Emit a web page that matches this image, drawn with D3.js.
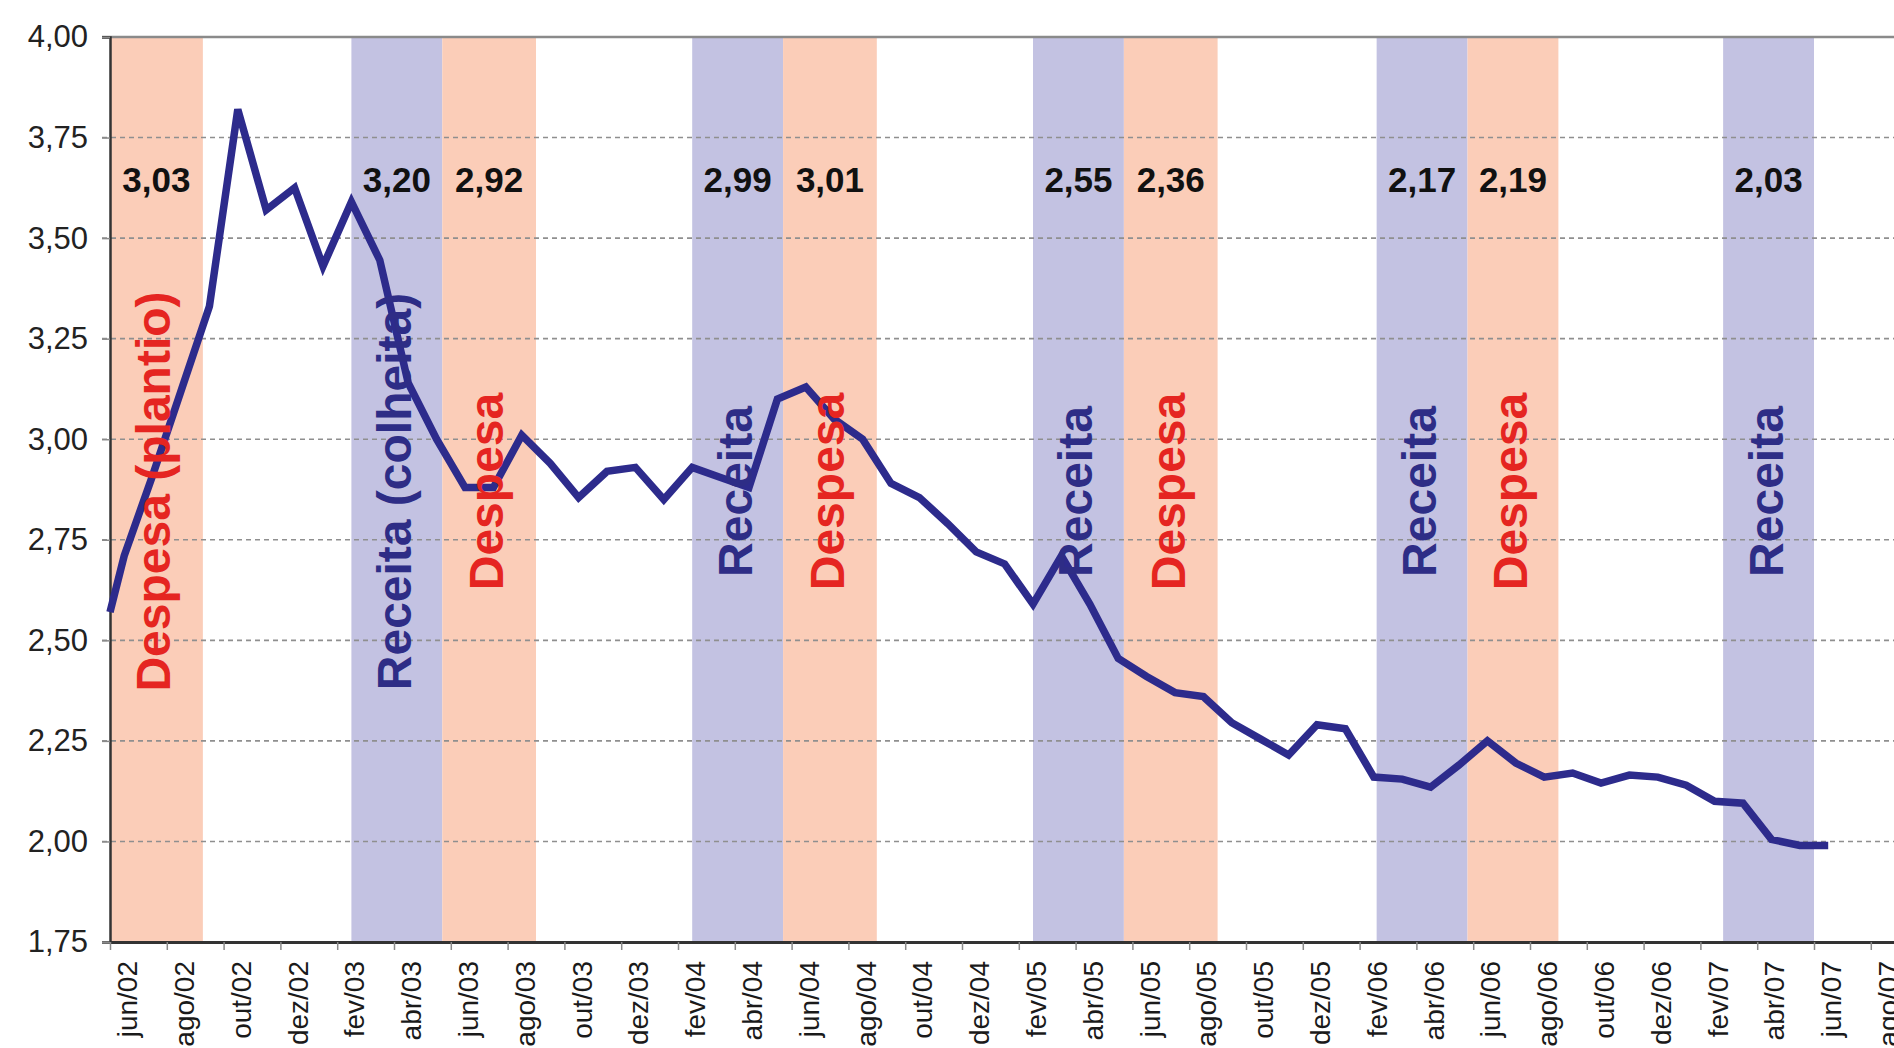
<!DOCTYPE html>
<html>
<head>
<meta charset="utf-8">
<title>Receita x Despesa</title>
<style>
  body { margin: 0; background: #fff; }
  svg { display: block; font-family: "Liberation Sans", Arial, sans-serif; }
</style>
</head>
<body>
<div id="chart"></div>
<script src="https://cdn.jsdelivr.net/npm/d3@7"></script>
<script>
// categorias mensais (eixo x)
var months = ["jun/02","jul/02","ago/02","set/02","out/02","nov/02","dez/02",
  "jan/03","fev/03","mar/03","abr/03","mai/03","jun/03","jul/03","ago/03","set/03","out/03","nov/03","dez/03",
  "jan/04","fev/04","mar/04","abr/04","mai/04","jun/04","jul/04","ago/04","set/04","out/04","nov/04","dez/04",
  "jan/05","fev/05","mar/05","abr/05","mai/05","jun/05","jul/05","ago/05","set/05","out/05","nov/05","dez/05",
  "jan/06","fev/06","mar/06","abr/06","mai/06","jun/06","jul/06","ago/06","set/06","out/06","nov/06","dez/06",
  "jan/07","fev/07","mar/07","abr/07","mai/07","jun/07","jul/07","ago/07"];

// serie mensal (jun/02 .. jun/07)
var startValue = 2.57;
var values = [2.71, 2.91, 3.12, 3.33, 3.82, 3.57, 3.625, 3.43, 3.59, 3.445,
  3.14, 3.00, 2.88, 2.88, 3.01, 2.94, 2.855, 2.92, 2.93, 2.85,
  2.93, 2.905, 2.88, 3.10, 3.13, 3.05, 3.00, 2.89, 2.855, 2.79,
  2.72, 2.69, 2.59, 2.71, 2.59, 2.455, 2.41, 2.37, 2.36, 2.295,
  2.255, 2.215, 2.29, 2.28, 2.16, 2.155, 2.135, 2.19, 2.25, 2.195,
  2.16, 2.17, 2.145, 2.165, 2.16, 2.14, 2.10, 2.095, 2.005, 1.99, 1.99];

// faixas de receita / despesa (em meses a partir de jun/02)
var bandType  = ["despesa","receita","despesa","receita","despesa","receita","despesa","receita","despesa","receita"];
var bandFrom  = [0, 8.5, 11.7, 20.5, 23.7, 32.5, 35.7, 44.6, 47.8, 56.8];
var bandTo    = [3.27, 11.7, 15.0, 23.7, 27.0, 35.7, 39.0, 47.8, 51.0, 60.0];
var bandValue = ["3,03","3,20","2,92","2,99","3,01","2,55","2,36","2,17","2,19","2,03"];
var bandText  = ["Despesa (plantio)","Receita (colheita)","Despesa","Receita","Despesa","Receita","Despesa","Receita","Despesa","Receita"];

var yTicks = [1.75, 2.00, 2.25, 2.50, 2.75, 3.00, 3.25, 3.50, 3.75, 4.00];

var W = 1894, H = 1048;
var plotLeft = 110, plotTop = 37, plotBottom = 942, catW = 28.4;

var fillColor = { despesa: "#fbcdb8", receita: "#c3c2e2" };
var textColor = { despesa: "#e52521", receita: "#2e2d86" };

var svg = d3.select("#chart").append("svg")
    .attr("width", W)
    .attr("height", H);

var x = d3.scaleLinear().domain([0, months.length]).range([plotLeft, plotLeft + months.length * catW]);
var y = d3.scaleLinear().domain([1.75, 4.0]).range([plotBottom, plotTop]);

var bands = bandType.map(function(t, i) {
    return { type: t, from: bandFrom[i], to: bandTo[i], value: bandValue[i], text: bandText[i] };
});

svg.selectAll(".band")
    .data(bands)
    .enter().append("rect")
        .attr("class", "band")
        .attr("x", function(d) { return x(d.from); })
        .attr("width", function(d) { return x(d.to) - x(d.from); })
        .attr("y", y(4.0))
        .attr("height", y(1.75) - y(4.0))
        .style("fill", function(d) { return fillColor[d.type]; });

// grade tracejada
svg.selectAll(".grid")
    .data(yTicks.filter(function(v) { return v > 1.75 && v < 4.0; }))
    .enter().append("line")
        .attr("class", "grid")
        .attr("x1", plotLeft - 8)
        .attr("x2", W)
        .attr("y1", function(d) { return y(d); })
        .attr("y2", function(d) { return y(d); })
        .style("stroke", "#8f8f8f")
        .style("stroke-width", 1.6)
        .style("stroke-dasharray", "5,4");

// borda superior
svg.append("line")
    .attr("x1", plotLeft - 8).attr("x2", W)
    .attr("y1", y(4.0)).attr("y2", y(4.0))
    .style("stroke", "#8a8a8a")
    .style("stroke-width", 2.5);

var fmt = d3.formatLocale({ decimal: ",", thousands: ".", grouping: [3], currency: ["R$", ""] }).format(".2f");

var yAxis = svg.append("g")
    .attr("transform", "translate(" + plotLeft + ",0)")
    .call(d3.axisLeft(y).tickValues(yTicks).tickSize(8).tickPadding(14).tickFormat(fmt));
yAxis.select(".domain").style("stroke", "#333").style("stroke-width", 2.5);
yAxis.selectAll(".tick line").style("stroke", "#8a8a8a").style("stroke-width", 1.5);
yAxis.selectAll(".tick text")
    .style("font-size", "31px")
    .style("fill", "#222")
    .style("font-family", "'Liberation Sans', Arial, sans-serif");

var evenTicks = d3.range(0, months.length, 2);
var xAxis = svg.append("g")
    .attr("transform", "translate(0," + plotBottom + ")")
    .call(d3.axisBottom(x).tickValues(evenTicks).tickSize(8).tickSizeOuter(0).tickFormat(""));
xAxis.select(".domain").style("stroke", "#333").style("stroke-width", 3);
xAxis.selectAll(".tick line").style("stroke", "#8a8a8a").style("stroke-width", 1.5);

svg.selectAll(".month-label")
    .data(evenTicks)
    .enter().append("text")
        .attr("class", "month-label")
        .attr("transform", function(i) {
            return "translate(" + (x(i + 0.5) + 13) + "," + (plotBottom + 19) + ") rotate(-90)";
        })
        .attr("text-anchor", "end")
        .style("font-size", "28px")
        .style("fill", "#1a1a1a")
        .text(function(i) { return months[i]; });

// linha
var points = [{ pos: 0, v: startValue }].concat(values.map(function(v, i) {
    return { pos: i + 0.5, v: v };
}));

svg.append("path")
    .datum(points)
    .attr("d", d3.line().x(function(d) { return x(d.pos); }).y(function(d) { return y(d.v); }))
    .style("fill", "none")
    .style("stroke", "#2d2b8c")
    .style("stroke-width", 7.5)
    .style("stroke-linejoin", "miter");

// rotulos verticais das faixas
svg.selectAll(".band-text")
    .data(bands)
    .enter().append("text")
        .attr("class", "band-text")
        .attr("transform", function(d) {
            var cx = (x(d.from) + x(d.to)) / 2;
            return "translate(" + (cx + 14) + "," + y(2.87) + ") rotate(-90)";
        })
        .attr("text-anchor", "middle")
        .style("font-size", "48px")
        .style("font-weight", "bold")
        .style("fill", function(d) { return textColor[d.type]; })
        .text(function(d) { return d.text; });

// valores no topo
svg.selectAll(".band-value")
    .data(bands)
    .enter().append("text")
        .attr("class", "band-value")
        .attr("x", function(d) { return (x(d.from) + x(d.to)) / 2; })
        .attr("y", y(3.615))
        .attr("text-anchor", "middle")
        .style("font-size", "35px")
        .style("font-weight", "bold")
        .style("fill", "#111")
        .text(function(d) { return d.value; });
</script>
</body>
</html>
